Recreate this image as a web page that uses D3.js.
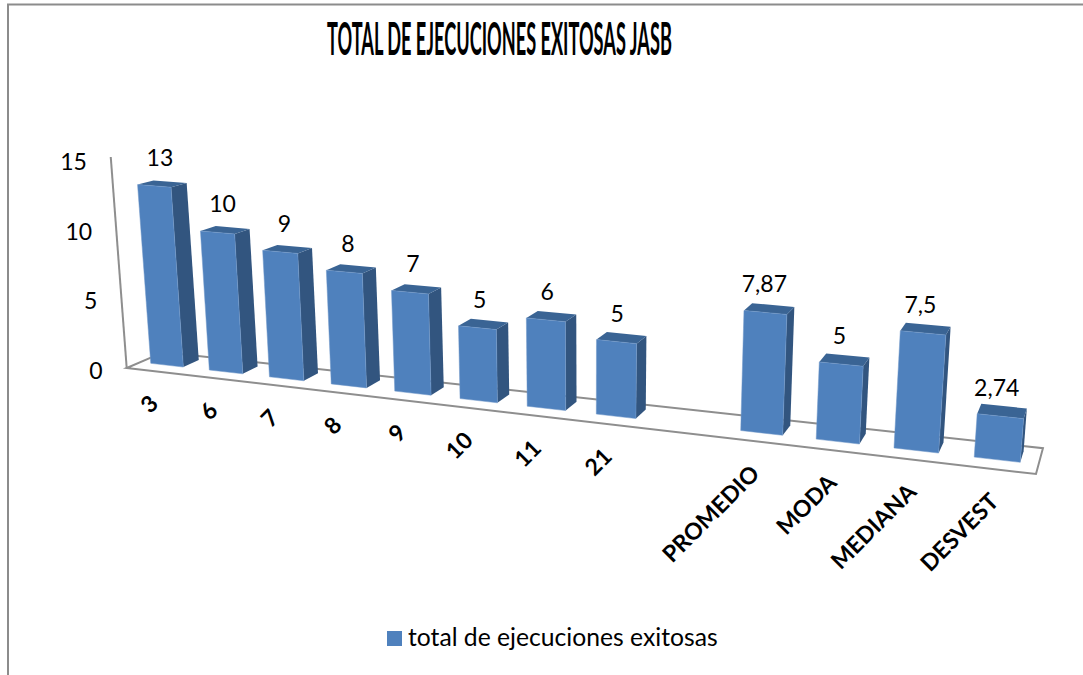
<!DOCTYPE html>
<html>
<head>
<meta charset="utf-8">
<script src="https://cdn.jsdelivr.net/npm/d3@7"></script>
<style>
  html, body { margin: 0; padding: 0; background: #fff; }
  svg { display: block; }
  text { font-family: Lato, "Open Sans", sans-serif; fill: #000; }
</style>
</head>
<body>
<div id="chart"></div>
<script>
// Chart values, blank category is the empty slot between 21 and PROMEDIO
const categories = ["3", "6", "7", "8", "9", "10", "11", "21", "", "PROMEDIO", "MODA", "MEDIANA", "DESVEST"];
const values = [13, 10, 9, 8, 7, 5, 6, 5, null, 7.87, 5, 7.5, 2.74];
const valueLabels = ["13", "10", "9", "8", "7", "5", "6", "5", "", "7,87", "5", "7,5", "2,74"];
const yTicks = [0, 5, 10, 15];
const seriesName = "total de ejecuciones exitosas";
const title = "TOTAL DE EJECUCIONES EXITOSAS JASB";

const width = 1083, height = 675;

const svg = d3.select("#chart").append("svg")
    .attr("width", width)
    .attr("height", height);

// Fake 3D camera: front edge of the floor on screen plus vanishing points
const floorFront = { x0: 126.7, y0: 368, x1: 1036, y1: 474 };
const depthVP = { x: 1187, y: -88 };
const leanVP = { x: 575, y: 6300 };
const w = 1.21;  // foreshortening along the category axis
const hw = 1.17; // same idea for the bar heights

const xBand = d3.scaleBand()
    .domain(d3.range(categories.length))
    .range([-0.003, 1.0])
    .paddingInner(0.44)
    .paddingOuter(0.22);

const yScale = d3.scaleLinear().domain([0, 15]).range([0, 208.5]);
const depthAmount = d3.scaleLinear().domain([0, 1]).range([0.0347, 0.046]);
const labelShift = d3.scaleLinear().domain([0, 1]).range([6, -4]);

const warp = X => X / (w + (1 - w) * X);

// X in 0-1 along the floor, v in data units, d in 0-1 front to back
function project(X, v, d) {
    const s = warp(X);
    const bx = floorFront.x0 + s * (floorFront.x1 - floorFront.x0);
    const by = floorFront.y0 + s * (floorFront.y1 - floorFront.y0);
    const h = yScale(v) * hw / (hw + (1 - hw) * X);
    const px = bx + h * (bx - leanVP.x) / (leanVP.y - by);
    const py = by - h;
    const a = d * depthAmount(s);
    return [px + a * (depthVP.x - px), py + a * (depthVP.y - py)];
}

const poly = pts => d3.line()(pts) + "Z";

// Outer frame, only top and left show in the picture
svg.append("path")
    .attr("d", "M8,675V4.5H1083")
    .attr("fill", "none")
    .attr("stroke", "#8c8c8c")
    .attr("stroke-width", 2);

// Title, squeezed like the original
const titleText = svg.append("text")
    .attr("font-size", 46)
    .attr("font-weight", 700)
    .text(title);
titleText.attr("transform", `translate(327,55) scale(${345 / titleText.node().getComputedTextLength()},1)`);

// Floor and value axis, the axis line overshoots the last tick a little
const floorPts = [project(0, 0, 0), project(1, 0, 0), project(1, 0, 1), project(0, 0, 1)];
svg.append("path")
    .attr("d", poly(floorPts))
    .attr("fill", "none")
    .attr("stroke", "#8e8e8e")
    .attr("stroke-width", 2);
svg.append("path")
    .attr("d", d3.line()([project(0, 0, 0), project(0, 15.18, 0)]))
    .attr("fill", "none")
    .attr("stroke", "#8e8e8e")
    .attr("stroke-width", 2);

// Value axis labels
svg.selectAll(".ytick")
    .data(yTicks)
    .join("text")
    .attr("class", "ytick")
    .attr("x", d => project(0, d, 0)[0] - 24)
    .attr("y", d => project(0, d, 0)[1] + 10.5)
    .attr("text-anchor", "end")
    .attr("font-size", 23)
    .text(d => d);

// Bars
const bandW = xBand.bandwidth();
const d0 = 0.37, d1 = 0.8;
const bars = svg.selectAll(".bar")
    .data(values.map((v, i) => ({ v, i })).filter(d => d.v !== null))
    .join("g")
    .attr("class", "bar");

bars.append("path") // right side
    .attr("d", d => {
        const x1 = xBand(d.i) + bandW;
        return poly([project(x1, 0, d0), project(x1, d.v, d0), project(x1, d.v, d1), project(x1, 0, d1)]);
    })
    .attr("fill", "#32557f");

bars.append("path") // top
    .attr("d", d => {
        const x0 = xBand(d.i), x1 = x0 + bandW;
        return poly([project(x0, d.v, d0), project(x1, d.v, d0), project(x1, d.v, d1), project(x0, d.v, d1)]);
    })
    .attr("fill", "#3a6494");

bars.append("path") // front
    .attr("d", d => {
        const x0 = xBand(d.i), x1 = x0 + bandW;
        return poly([project(x0, 0, d0), project(x1, 0, d0), project(x1, d.v, d0), project(x0, d.v, d0)]);
    })
    .attr("fill", "#4f81bd")
    .attr("stroke", "#6f97c9")
    .attr("stroke-width", 0.5);

// Value labels above each bar
bars.append("text")
    .attr("x", d => {
        const c = xBand(d.i) + bandW / 2;
        return project(c, d.v, d0)[0] + labelShift(warp(c));
    })
    .attr("y", d => project(xBand(d.i) + bandW / 2, d.v, d0)[1] - 20)
    .attr("text-anchor", "middle")
    .attr("font-size", 23)
    .text(d => valueLabels[d.i]);

// Category labels, rotated
svg.selectAll(".xlabel")
    .data(categories.map((c, i) => ({ c, i })).filter(d => d.c !== ""))
    .join("text")
    .attr("class", "xlabel")
    .attr("transform", d => {
        const p = project(xBand(d.i) + bandW / 2, 0, 0);
        return `translate(${p[0] + 6},${p[1] + 34}) rotate(-45)`;
    })
    .attr("text-anchor", "end")
    .attr("font-size", 23)
    .attr("font-weight", 700)
    .text(d => d.c);

// Legend
svg.append("rect")
    .attr("x", 387)
    .attr("y", 631)
    .attr("width", 15)
    .attr("height", 15)
    .attr("fill", "#4f81bd");
svg.append("text")
    .attr("x", 408)
    .attr("y", 646)
    .attr("font-size", 24.7)
    .text(seriesName);
</script>
</body>
</html>
